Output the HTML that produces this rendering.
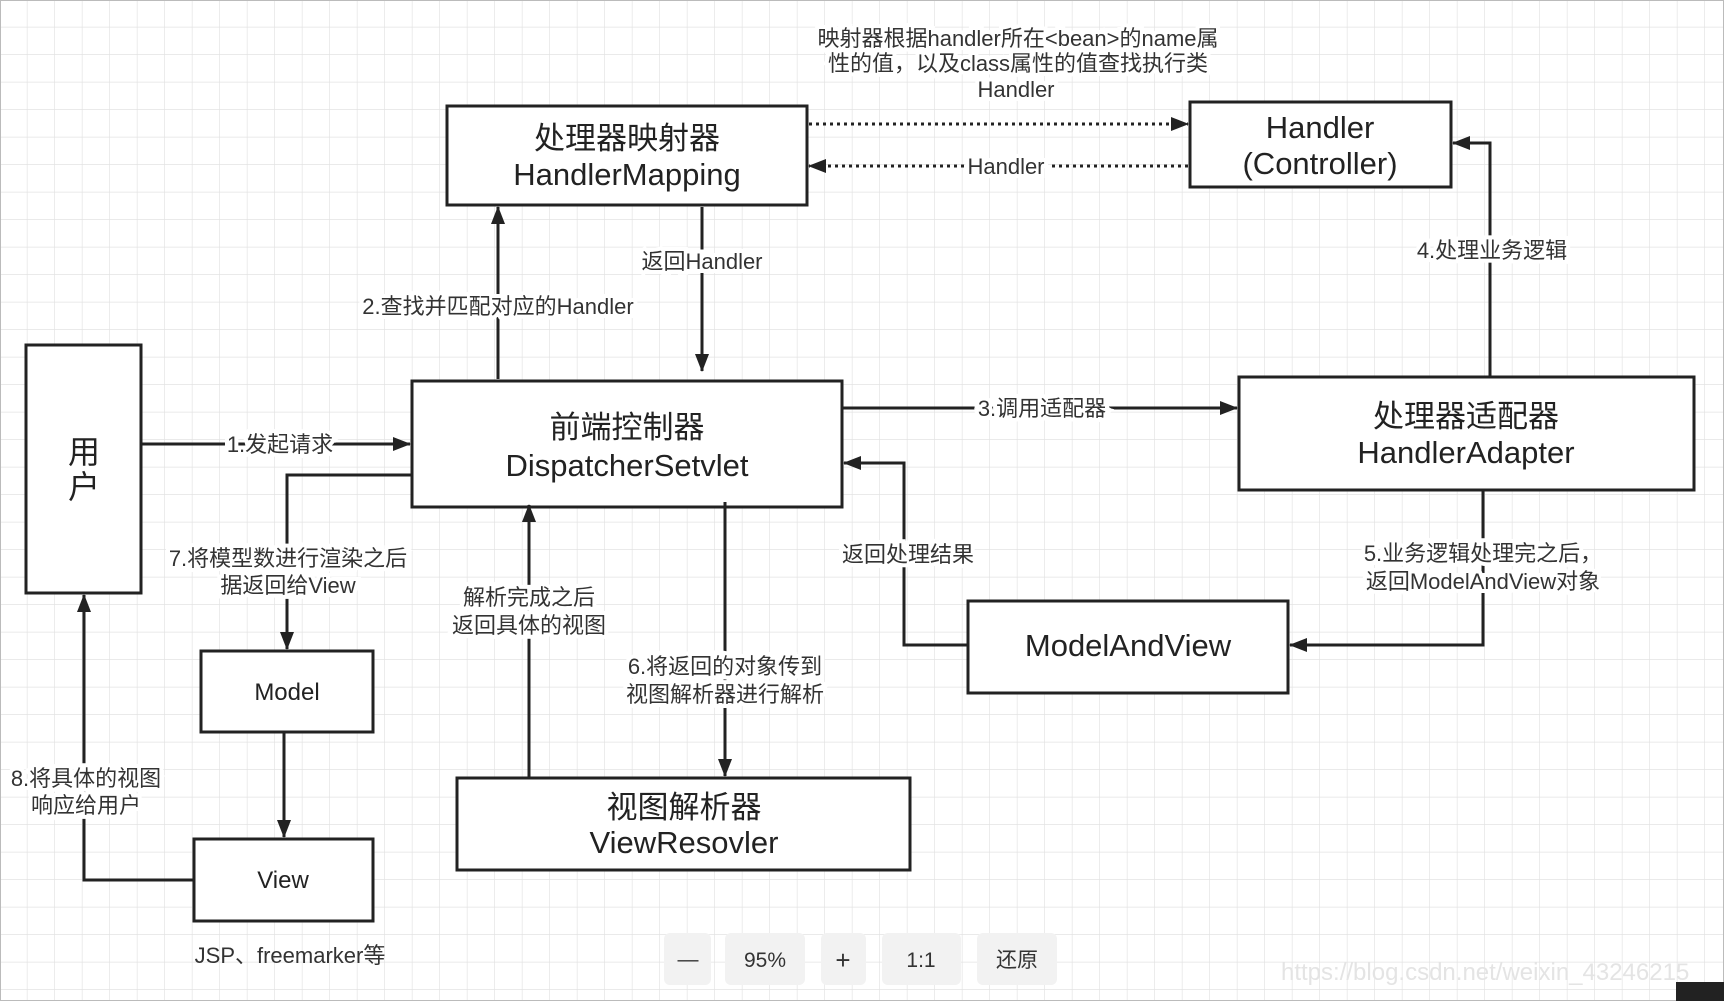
<!DOCTYPE html>
<html><head><meta charset="utf-8"><style>
html,body{margin:0;padding:0;background:#fff;}
svg{display:block;font-family:"Liberation Sans","Noto Sans CJK SC",sans-serif;}
</style></head><body>
<svg width="1724" height="1001" viewBox="0 0 1724 1001" xmlns="http://www.w3.org/2000/svg">
<defs>
<pattern id="g" width="27.5" height="27.5" patternUnits="userSpaceOnUse">
<path d="M27.5 0V27.5H0" fill="none" stroke="#e3e3e3" stroke-width="1.4"/>
</pattern>
<marker id="b" markerWidth="18" markerHeight="14" refX="17" refY="7" orient="auto" markerUnits="userSpaceOnUse">
<path d="M0 0L18 7L0 14z" fill="#222"/>
</marker>
</defs>
<rect width="1724" height="1001" fill="url(#g)"/>
<rect x="0.5" y="0.5" width="1723" height="1000" fill="none" stroke="#bbb"/>
<g stroke="#222" stroke-width="3" fill="none">
<rect x="447" y="106" width="360" height="99" fill="#fff"/>
<rect x="1190" y="102" width="261" height="85" fill="#fff"/>
<rect x="26" y="345" width="115" height="248" fill="#fff"/>
<rect x="412" y="381" width="430" height="126" fill="#fff"/>
<rect x="1239" y="377" width="455" height="113" fill="#fff"/>
<rect x="968" y="601" width="320" height="92" fill="#fff"/>
<rect x="201" y="651" width="172" height="81" fill="#fff"/>
<rect x="194" y="839" width="179" height="82" fill="#fff"/>
<rect x="457" y="778" width="453" height="92" fill="#fff"/>
<path d="M809 124H1188" stroke-dasharray="3 4" marker-end="url(#b)"/>
<path d="M1188 166H809" stroke-dasharray="3 4" marker-end="url(#b)"/>
<path d="M498 379V207" marker-end="url(#b)"/>
<path d="M702 207V371" marker-end="url(#b)"/>
<path d="M141 444H410" marker-end="url(#b)"/>
<path d="M842 408H1237" marker-end="url(#b)"/>
<path d="M1490 377V143H1453" marker-end="url(#b)"/>
<path d="M1483 490V645H1290" marker-end="url(#b)"/>
<path d="M968 645H904V463H844" marker-end="url(#b)"/>
<path d="M725 502V776" marker-end="url(#b)"/>
<path d="M529 778V505" marker-end="url(#b)"/>
<path d="M412 475H287V649" marker-end="url(#b)"/>
<path d="M284 732V837" marker-end="url(#b)"/>
<path d="M194 880H84V595" marker-end="url(#b)"/>
</g>
<g fill="#222" text-anchor="middle" font-size="31">
<text x="627" y="149">处理器映射器</text>
<text x="627" y="185">HandlerMapping</text>
<text x="1320" y="138">Handler</text>
<text x="1320" y="174">(Controller)</text>
<text x="84" y="463" font-size="32">用</text>
<text x="84" y="498" font-size="32">户</text>
<text x="627" y="438">前端控制器</text>
<text x="627" y="476">DispatcherSetvlet</text>
<text x="1466" y="427">处理器适配器</text>
<text x="1466" y="463">HandlerAdapter</text>
<text x="1128" y="656">ModelAndView</text>
<text x="287" y="700" font-size="24">Model</text>
<text x="283" y="888" font-size="24">View</text>
<text x="684" y="818">视图解析器</text>
<text x="684" y="853">ViewResovler</text>
</g>
<g fill="#333" text-anchor="middle" font-size="22">
<g stroke="#fff" stroke-width="8" paint-order="stroke">
<text x="1018" y="46">映射器根据handler所在&lt;bean&gt;的name属</text>
<text x="1018" y="71">性的值，以及class属性的值查找执行类</text>
<text x="1016" y="97">Handler</text>
<text x="1006" y="174">Handler</text>
<text x="498" y="314">2.查找并匹配对应的Handler</text>
<text x="702" y="269">返回Handler</text>
<text x="280" y="452">1.发起请求</text>
<text x="1042" y="416">3.调用适配器</text>
<text x="1492" y="258">4.处理业务逻辑</text>
<text x="1483" y="561">5.业务逻辑处理完之后，</text>
<text x="1483" y="589">返回ModelAndView对象</text>
<text x="908" y="562">返回处理结果</text>
<text x="725" y="674">6.将返回的对象传到</text>
<text x="725" y="702">视图解析器进行解析</text>
<text x="529" y="605">解析完成之后</text>
<text x="529" y="633">返回具体的视图</text>
<text x="288" y="566">7.将模型数进行渲染之后</text>
<text x="288" y="593">据返回给View</text>
<text x="86" y="786">8.将具体的视图</text>
<text x="86" y="813">响应给用户</text>
</g>
<text x="290" y="963">JSP、freemarker等</text>
</g>
<g fill="#f2f2f2">
<rect x="664" y="933" width="47" height="52" rx="6"/>
<rect x="725" y="933" width="80" height="52" rx="6"/>
<rect x="821" y="933" width="45" height="52" rx="6"/>
<rect x="882" y="933" width="79" height="52" rx="6"/>
<rect x="977" y="933" width="80" height="52" rx="6"/>
</g>
<g fill="#333" text-anchor="middle" font-size="21">
<text x="688" y="966">—</text>
<text x="765" y="967">95%</text>
<text x="843" y="969" font-size="26">+</text>
<text x="921" y="967">1:1</text>
<text x="1017" y="967">还原</text>
</g>
<text x="1281" y="980" font-size="24" fill="#e4e4e4">https://blog.csdn.net/weixin_43246215</text>
<rect x="1676" y="982" width="48" height="19" fill="#222"/>
</svg>
</body></html>
